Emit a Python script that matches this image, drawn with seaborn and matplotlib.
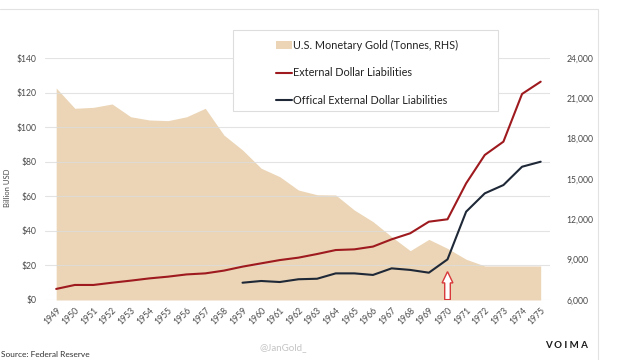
import numpy as np
import pandas as pd
import matplotlib
matplotlib.use('Agg')
import matplotlib.pyplot as plt
import seaborn as sns
from matplotlib.patches import Patch, Rectangle, FancyArrow
from matplotlib.lines import Line2D

# Data
years = list(range(1949, 1976))
gold_tonnes = [21770, 20260, 20330, 20580, 19630, 19390, 19340, 19630, 20260,
               18270, 17160, 15800, 15170, 14180, 13830, 13810, 12690, 11830,
               10710, 9670, 10510, 9840, 9030, 8530, 8530, 8530, 8530]
external_liab = [6.4, 8.7, 8.7, 10.0, 11.2, 12.5, 13.5, 14.8, 15.4, 17.0, 19.3,
                 21.2, 23.1, 24.5, 26.6, 28.9, 29.3, 30.9, 35.1, 38.6, 45.3,
                 46.7, 67.5, 83.9, 91.6, 119.2, 126.3]
official_years = list(range(1959, 1976))
official_liab = [10.0, 11.0, 10.4, 12.0, 12.3, 15.4, 15.4, 14.5, 18.3, 17.4,
                 15.8, 23.5, 51.1, 61.7, 66.5, 77.1, 80.0]

left_ticks = [0, 20, 40, 60, 80, 100, 120, 140]
right_ticks = [6000, 9000, 12000, 15000, 18000, 21000, 24000]

gold_color = '#EBD5B6'
red_color = '#9E1A1E'
navy_color = '#1E2837'
tick_color = '#4a4a4a'

df_ext = pd.DataFrame({'year': years, 'value': external_liab})
df_off = pd.DataFrame({'year': official_years, 'value': official_liab})

sns.set_style('white')
plt.rcParams['font.family'] = ['Lato', 'DejaVu Sans']

fig = plt.figure(figsize=(6.4, 3.6), dpi=100)
ax = fig.add_axes([45 / 640, 1 - 300 / 360, 505 / 640, 242 / 360])
ax_r = ax.twinx()

# gold area on the right axis, behind the lines
ax_r.fill_between(years, gold_tonnes, 6000, color=gold_color, linewidth=0)
ax_r.set_ylim(6000, 24000)
ax_r.set_yticks(right_ticks)
ax_r.set_yticklabels([f'{t:,}' for t in right_ticks])

ax.set_zorder(ax_r.get_zorder() + 1)
ax.patch.set_visible(False)

sns.lineplot(data=df_ext, x='year', y='value', ax=ax, color=red_color, linewidth=1.5)
sns.lineplot(data=df_off, x='year', y='value', ax=ax, color=navy_color, linewidth=1.5)

ax.set_ylim(0, 140)
ax.set_yticks(left_ticks)
ax.set_yticklabels([f'${t}' for t in left_ticks])
ax.set_xlim(1948.4, 1975.5)
ax.set_xticks(years)
ax.set_xticklabels([str(y) for y in years], rotation=45, ha='right',
                   rotation_mode='anchor')
ax.set_xlabel('')
ax.set_ylabel('')
ax.grid(True, axis='y', color='#dcdcdc', linewidth=0.8, alpha=0.8)
ax.grid(False, axis='x')

for a in (ax, ax_r):
    for s in a.spines.values():
        s.set_visible(False)
ax.tick_params(axis='both', length=0, labelsize=6.2, labelcolor=tick_color)
ax.tick_params(axis='y', pad=6)
ax.tick_params(axis='x', pad=4)
ax_r.tick_params(axis='y', length=0, labelsize=6.2, labelcolor=tick_color, pad=12)

# red arrow pointing at 1970
ax.add_patch(FancyArrow(1970, 0.2, 0, 16.2, width=0.3, head_width=0.58,
                        head_length=6.5, length_includes_head=True,
                        facecolor='white', edgecolor='#d8383a', linewidth=1.0,
                        zorder=5))

fig.text(8 / 640, 1 - 188 / 360, 'Billion USD', rotation=90, fontsize=5.5,
         color=tick_color, ha='center', va='center')

# legend box
fig.patches.append(Rectangle((233 / 640, 1 - 111 / 360), 265 / 640, 81 / 360,
                             transform=fig.transFigure, facecolor='white',
                             edgecolor='#dddddd', linewidth=0.8, zorder=3))
handles = [Patch(facecolor=gold_color, edgecolor='none'),
           Line2D([], [], color=red_color, linewidth=1.5),
           Line2D([], [], color=navy_color, linewidth=1.5)]
labels = ['U.S. Monetary Gold (Tonnes, RHS)', 'External Dollar Liabilities',
          'Offical External Dollar Liabilities']
leg = fig.legend(handles, labels, loc='upper left',
                 bbox_to_anchor=(268 / 640, 1 - 32 / 360), frameon=False,
                 fontsize=7.8, handlelength=1.5, handletextpad=0.15,
                 labelspacing=1.55, borderpad=0.2)
leg.set_zorder(4)
for t in leg.get_texts():
    t.set_color('#222222')

# screenshot frame lines and footer texts
fig.add_artist(Line2D([0, 598 / 640], [1 - 9 / 360] * 2, color='#e2e2e2',
                      linewidth=0.8, transform=fig.transFigure))
fig.add_artist(Line2D([598 / 640] * 2, [0, 1 - 9 / 360], color='#e2e2e2',
                      linewidth=0.8, transform=fig.transFigure))
fig.text(1 / 640, 1 - 357 / 360, 'Source: Federal Reserve', fontsize=6,
         color='#333333', ha='left', va='baseline')
fig.text(283 / 640, 1 - 348 / 360, '@JanGold_', fontsize=7, color='#c4c4c4',
         ha='center', va='center')
fig.text(566 / 640, 1 - 346 / 360, 'V O I M A', fontsize=7, fontweight='bold',
         color='#1a1a1a', ha='center', va='center')

fig.savefig('out.png', dpi=100)
